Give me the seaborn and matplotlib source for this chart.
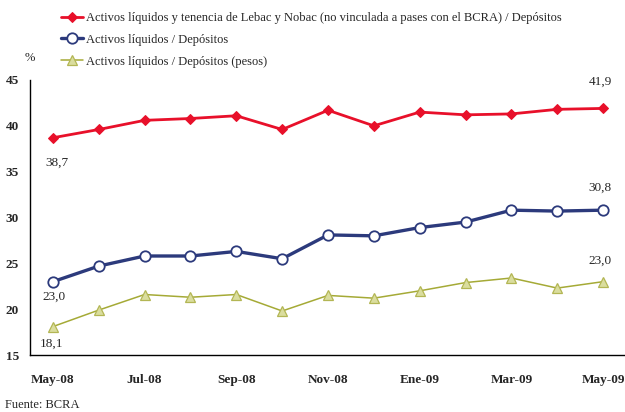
import matplotlib
matplotlib.use("Agg")
import matplotlib.pyplot as plt
import seaborn as sns
import numpy as np
import pandas as pd

months = ["May-08", "Jun-08", "Jul-08", "Ago-08", "Sep-08", "Oct-08", "Nov-08",
          "Dic-08", "Ene-09", "Feb-09", "Mar-09", "Abr-09", "May-09"]
red_vals = [38.7, 39.6, 40.6, 40.8, 41.1, 39.6, 41.7, 40.0, 41.5, 41.2, 41.3, 41.8, 41.9]
blue_vals = [23.0, 24.7, 25.8, 25.8, 26.3, 25.5, 28.1, 28.0, 28.9, 29.5, 30.8, 30.7, 30.8]
olive_vals = [18.1, 19.9, 21.6, 21.3, 21.6, 19.8, 21.5, 21.2, 22.0, 22.9, 23.4, 22.3, 23.0]
labels = ["Activos líquidos y tenencia de Lebac y Nobac (no vinculada a pases con el BCRA) / Depósitos",
          "Activos líquidos / Depósitos",
          "Activos líquidos / Depósitos (pesos)"]
yticks = [15, 20, 25, 30, 35, 40, 45]

sns.set_theme(style="white")
plt.rcParams['font.family'] = ['Liberation Serif', 'DejaVu Serif']

fig = plt.figure(figsize=(6.25, 4.12), dpi=100)
ax = fig.add_axes([30/625, 1-355/412, 596/625, 275/412])

x = np.arange(len(months))
df = pd.DataFrame({"x": x, "red": red_vals, "blue": blue_vals, "olive": olive_vals})

RED = "#E8102A"
NAVY = "#2C3A7C"
OLIVE = "#A5AA36"

sns.lineplot(data=df, x="x", y="red", ax=ax, color=RED, lw=2.0, marker="D",
             markersize=4.6, markerfacecolor=RED, markeredgecolor=RED, label=labels[0])
sns.lineplot(data=df, x="x", y="blue", ax=ax, color=NAVY, lw=2.4, marker="o",
             markersize=7.5, markerfacecolor="white", markeredgecolor=NAVY,
             markeredgewidth=1.3, label=labels[1])
sns.lineplot(data=df, x="x", y="olive", ax=ax, color=OLIVE, lw=1.1, marker="^",
             markersize=6.5, markerfacecolor="#DADD9E", markeredgecolor="#B3B654",
             markeredgewidth=0.9, label=labels[2])

ax.set_xlim(-0.5, len(months) - 0.5)
ax.set_ylim(15, 45)
ax.set_yticks(yticks)
ax.set_yticklabels([str(t) for t in yticks], fontsize=9.5, fontweight="bold")
ax.set_xticks(x[::2])
ax.set_xticklabels(months[::2], fontsize=9.5, fontweight="bold")
ax.set_xticks(np.arange(1.5, len(months) - 1, 2), minor=True)
ax.tick_params(axis="x", which="major", length=0, pad=14)
ax.tick_params(axis="x", which="minor", direction="in", length=5, width=0.8, color="black")
ax.tick_params(axis="y", which="major", direction="in", length=4, width=0.8, color="black", pad=8)
ax.set_xlabel("")
ax.set_ylabel("")
for s in ["top", "right"]:
    ax.spines[s].set_visible(False)
for s in ["left", "bottom"]:
    ax.spines[s].set_color("black")
    ax.spines[s].set_linewidth(1.0)
ax.grid(False)

# value annotations
def lab(i, v, dy, dx=0):
    ax.annotate(f"{v:.1f}".replace(".", ","), (x[i], v), xytext=(dx, dy),
                textcoords="offset points", ha="center", va="center", fontsize=9.5)

lab(0, red_vals[0], -18, 3)
lab(0, blue_vals[0], -11, 1)
lab(0, olive_vals[0], -12, -1)
lab(-1, red_vals[-1], 19, -2)
lab(-1, blue_vals[-1], 16, -2)
lab(-1, olive_vals[-1], 15, -2)

ax.legend_.remove()
h, l = ax.get_legend_handles_labels()
fig.legend(h, l, loc="upper left", bbox_to_anchor=(61/625, 1-12/412), frameon=False,
           fontsize=9, handlelength=1.75, handletextpad=0.25, labelspacing=0.78,
           borderaxespad=0, borderpad=0)

fig.text(30/625, 1-58/412, "%", fontsize=9, ha="center", va="center")
fig.text(5/625, 1-405/412, "Fuente: BCRA", fontsize=9, ha="left", va="center")

fig.savefig("out.png", dpi=100)
